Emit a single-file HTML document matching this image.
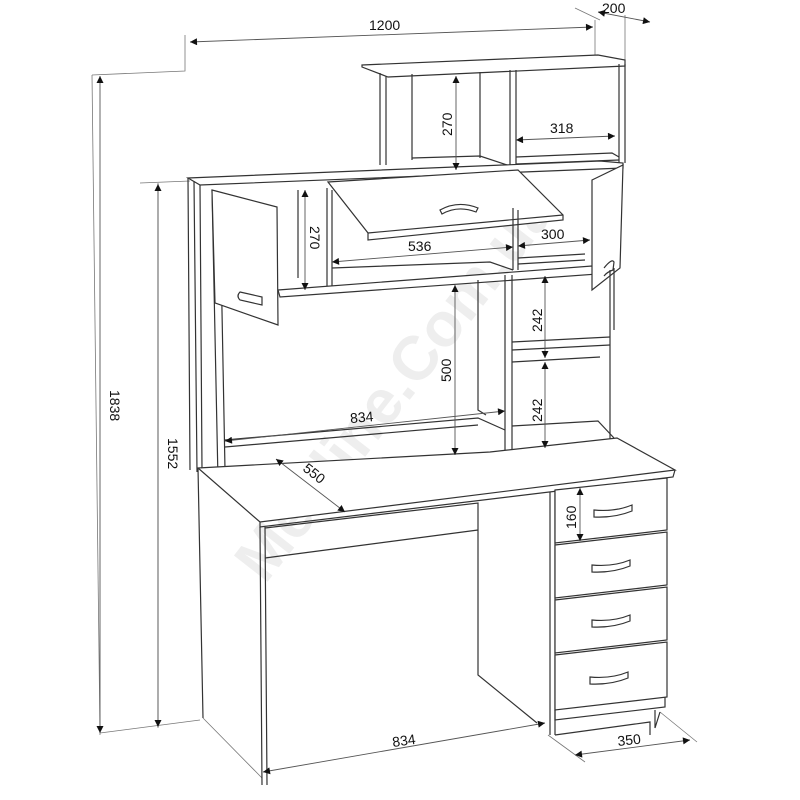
<!DOCTYPE html>
<html><head><meta charset="utf-8"><style>
html,body{margin:0;padding:0;background:#fff}
svg{display:block}
text{font-family:"Liberation Sans",sans-serif;font-size:14px;fill:#111}
.l{stroke:#333;stroke-width:1.2;fill:none}
.f{stroke:#333;stroke-width:1.2;fill:#fff}
.d{stroke:#777;stroke-width:0.8;fill:none}
</style></head><body>
<svg width="800" height="800" viewBox="0 0 800 800" xmlns="http://www.w3.org/2000/svg">
<defs>
<marker id="a" viewBox="0 0 10 10" refX="10" refY="5" markerWidth="10" markerHeight="7" orient="auto-start-reverse" markerUnits="userSpaceOnUse"><path d="M0,0 L10,5 L0,10 z" fill="#111"/></marker>
</defs>
<text x="0" y="0" transform="translate(265,585) rotate(-52)" style="font-size:62px;fill:#eeeeee;font-weight:bold">Mebline.Com.ua</text>

<path class="d" d="M92,75 L185,71 L185,35 M92,75 L100,735 M100,733 L200,720 M140,183 L190,181 M158,183 L158,728 M595,20 L595,58 M575,8 L600,20 M625,15 L625,60 M548,735 L585,762 M660,712 L697,742 M203,718 L262,778"/>

<path class="f" d="M362,65 L598,55 L625,60 L625,66 L388,77 L362,67 Z"/>
<path class="l" d="M380,73 L380,165 M386,76 L386,165 M412,74 L412,160 M480,72 L480,158 M510,70 L510,168 M516,70 L516,168 M619,64 L619,165 M625,64 L625,163"/>
<path class="l" d="M412,158 L480,156 L510,166 M516,157 L612,153 L619,157 M516,164 L619,160"/>

<path class="f" d="M188,178 L600,161 L623,163 L623,168 L200,185 Z"/>
<path class="l" d="M188,178 L190,470 M194,181 L197,472 M200,185 L202,470 M212,190 L218,480 M220,205 L225,470"/>
<path class="f" d="M328,182 L518,170 L563,215 L563,220 L368,240 L368,233 Z"/>
<path class="l" d="M368,233 L563,215"/>
<path class="l" d="M440,210 Q458,200 478,208 L476,212 Q458,205 442,214 Z"/>
<path class="l" d="M327,188 L327,292 M332,190 L332,292 M298,190 L298,278 M513,208 L513,270 M518,210 L518,270"/>
<path class="l" d="M332,268 L490,262 L513,270 M518,258 L585,254 M518,264 L585,260"/>
<path class="f" d="M278,290 L592,266 L598,268 L598,274 L280,297 Z"/>
<path class="f" d="M212,190 L277,207 L278,325 L215,303 Z"/>
<path class="l" d="M240,292 L262,297 L262,305 L240,300 Q236,296 240,292 Z"/>
<path class="f" d="M592,180 L623,165 L620,268 L592,290 Z"/>
<path class="l" d="M604,268 Q612,258 614,262 L613,270 Q607,272 604,276"/>
<path class="l" d="M478,280 L478,410 L486,415 M505,275 L505,455 M512,275 L512,455 M610,270 L610,440 M614,268 L614,330"/>
<path class="l" d="M512,342 L610,337 M512,350 L610,345 M512,362 L600,357 M512,426 L598,421 L614,438"/>
<path class="l" d="M225,440 L478,418 L505,430 M225,447 L478,425"/>

<path class="f" d="M198,468 L490,452 L617,438 L675,470 L260,522 Z"/>
<path class="l" d="M260,522 L260,527 L673,477 L675,470"/>
<path class="l" d="M198,468 L203,718 M260,527 L262,785 M265,527 L267,785"/>
<path class="l" d="M265,528 L478,503 L478,675 L537,723 M265,558 L478,530"/>
<path class="l" d="M550,492 L550,735 M555,490 L555,735 M555,735 L650,722 L650,735 M655,710 L655,728 L660,712"/>
<g class="f">
<path d="M555,490 L667,478 L667,530 L555,543 Z"/>
<path d="M555,545 L667,532 L667,585 L555,598 Z"/>
<path d="M555,600 L667,587 L667,640 L555,653 Z"/>
<path d="M555,655 L667,642 L667,697 L555,710 Z"/>
</g>
<path class="l" d="M555,710 L555,720 L665,707 L665,697"/>
<g class="l">
<path d="M594,510 Q615,512 632,505 L632,511 Q615,518 594,517 Z"/>
<path d="M592,565 Q613,567 630,560 L630,566 Q613,573 592,572 Z"/>
<path d="M592,620 Q613,622 630,615 L630,621 Q613,628 592,627 Z"/>
<path d="M590,677 Q611,679 628,672 L628,678 Q611,685 590,684 Z"/>
</g>

<g stroke="#555" stroke-width="0.9" fill="none" marker-start="url(#a)" marker-end="url(#a)">
<line x1="190" y1="42" x2="593" y2="27"/>
<line x1="598" y1="12" x2="650" y2="22"/>
<line x1="100" y1="76" x2="100" y2="733"/>
<line x1="158" y1="184" x2="158" y2="727"/>
<line x1="456" y1="76" x2="456" y2="170"/>
<line x1="516" y1="140" x2="615" y2="136"/>
<line x1="305" y1="190" x2="305" y2="290"/>
<line x1="332" y1="262" x2="513" y2="247"/>
<line x1="518" y1="246" x2="590" y2="240"/>
<line x1="545" y1="276" x2="545" y2="358"/>
<line x1="545" y1="362" x2="545" y2="448"/>
<line x1="455" y1="285" x2="455" y2="455"/>
<line x1="225" y1="441" x2="505" y2="411"/>
<line x1="276" y1="459" x2="345" y2="512"/>
<line x1="580" y1="488" x2="580" y2="541"/>
<line x1="263" y1="772" x2="545" y2="723"/>
<line x1="575" y1="755" x2="690" y2="740"/>
</g>
<text x="369" y="30">1200</text>
<text x="602" y="13">200</text>
<text transform="translate(110,390) rotate(90)">1838</text>
<text transform="translate(168,438) rotate(90)">1552</text>
<text transform="translate(452,136) rotate(-90)">270</text>
<text x="550" y="133">318</text>
<text transform="translate(310,226) rotate(90)">270</text>
<text x="408" y="251">536</text>
<text x="541" y="239">300</text>
<text transform="translate(542,332) rotate(-90)">242</text>
<text transform="translate(542,422) rotate(-90)">242</text>
<text transform="translate(451,382) rotate(-90)">500</text>
<text x="350" y="422" transform="rotate(-5 363 417)">834</text>
<text transform="translate(302,470) rotate(38)">550</text>
<text transform="translate(576,529) rotate(-90)">160</text>
<text transform="translate(393,747) rotate(-8)">834</text>
<text transform="translate(618,746) rotate(-6)">350</text>
</svg>
</body></html>
